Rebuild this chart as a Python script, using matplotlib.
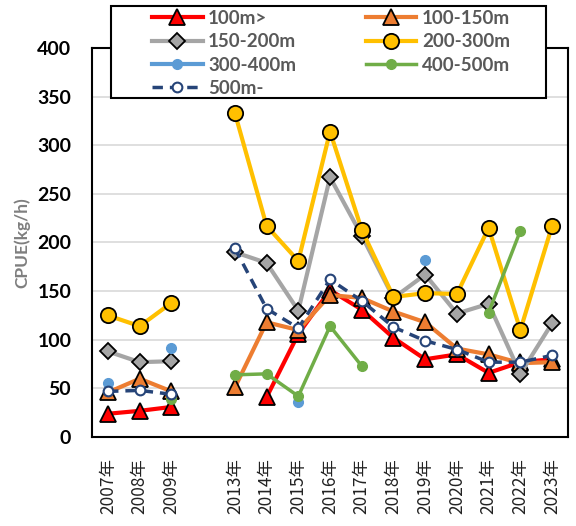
import numpy as np
import matplotlib.pyplot as plt
from matplotlib.patches import Rectangle

plt.rcParams['font.family'] = ['Lato', 'Noto Sans CJK JP', 'DejaVu Sans']

nan = np.nan
years = ['2007年', '2008年', '2009年', '', '2013年', '2014年', '2015年', '2016年',
         '2017年', '2018年', '2019年', '2020年', '2021年', '2022年', '2023年']

d_100 = [24, 27, 31, nan, nan, 41, 106, 151, 131, 102, 80, 85, 66, 77, 80]
d_100_150 = [46, 60, 47, nan, 51, 118, 110, 146, 143, 129, 118, 91, 85, 76, 77]
d_150_200 = [88, 77, 78, nan, 190, 179, 130, 267, 207, 143, 167, 127, 137, 65, 117]
d_200_300 = [125, 114, 138, nan, 333, 217, 181, 314, 213, 144, 148, 147, 215, 110, 217]
d_300_400 = [56, nan, 92, nan, nan, nan, 36, nan, nan, nan, 182, nan, nan, nan, nan]
d_400_500 = [nan, nan, 39, nan, 64, 65, 42, 114, 73, nan, nan, nan, 128, 212, nan]
d_500 = [47, 48, 44, nan, 194, 132, 112, 162, 140, 113, 99, 90, 77, 77, 84]

fig = plt.figure(figsize=(5.76, 5.26), dpi=100)
ax = fig.add_axes([0.16, 0.169, 0.826, 0.74])
x = np.arange(len(years))

h = []
h += ax.plot(x, d_100, color='#FF0000', lw=3, marker='^', ms=12, mfc='#FF0000', mec='black', mew=1.3, label='100m>')
h += ax.plot(x, d_100_150, color='#ED7D31', lw=3, marker='^', ms=11, mfc='#ED7D31', mec='black', mew=1.3, label='100-150m')
h += ax.plot(x, d_150_200, color='#A5A5A5', lw=3, marker='D', ms=8, mfc='#A5A5A5', mec='black', mew=1.3, label='150-200m')
h += ax.plot(x, d_200_300, color='#FFC000', lw=3, marker='o', ms=11, mfc='#FFC000', mec='black', mew=1.3, label='200-300m')
h += ax.plot(x, d_300_400, color='#5B9BD5', lw=3, marker='o', ms=7, mfc='#5B9BD5', mec='#5B9BD5', label='300-400m')
h += ax.plot(x, d_400_500, color='#70AD47', lw=2.5, marker='o', ms=7, mfc='#70AD47', mec='#70AD47', label='400-500m')
h += ax.plot(x, d_500, color='#264478', lw=2.5, ls=(0, (3, 2)), marker='o', ms=7, mfc='white', mec='#264478', mew=1.5, label='500m-')

ax.set_xlim(-0.5, len(years) - 0.5)
ax.set_ylim(0, 400)
ax.set_yticks(range(0, 401, 50))
ax.set_xticks(x)
ax.set_xticklabels(years, rotation=90, fontsize=12.5, color='#222222', family=['Noto Sans CJK JP', 'DejaVu Sans'])
ax.tick_params(length=0)
ax.tick_params(axis='x', pad=15)
ax.tick_params(axis='y', labelsize=14, pad=15)
for t in ax.get_yticklabels():
    t.set_fontweight('bold')
ax.set_ylabel('CPUE(kg/h)', fontsize=12.5, fontweight='bold', color='#7F7F7F')
ax.yaxis.set_label_coords(-0.13, 0.5)
ax.grid(axis='y', color='#D9D9D9', lw=1.2)
ax.set_axisbelow(True)
for s in ax.spines.values():
    s.set_color('black')
    s.set_linewidth(1.5)

# legend box drawn separately so its padding can match
box = Rectangle((111 / 576, 1 - 98 / 526), 435 / 576, 92 / 526, transform=fig.transFigure,
                facecolor='white', edgecolor='black', lw=1.5, zorder=4)
fig.add_artist(box)
order = [0, 2, 4, 6, 1, 3, 5]
leg = fig.legend([h[i] for i in order], [h[i].get_label() for i in order],
                 loc='upper left', bbox_to_anchor=(150 / 576, 1 - 8 / 526), ncol=2,
                 frameon=False, handlelength=2.7, fontsize=13.5, borderaxespad=0,
                 labelspacing=0.34, handletextpad=0.3, borderpad=0.1, columnspacing=3.7)
leg.set_zorder(5)
for t in leg.get_texts():
    t.set_color('#595959')
    t.set_fontweight('bold')

fig.savefig('out.png', dpi=100)
